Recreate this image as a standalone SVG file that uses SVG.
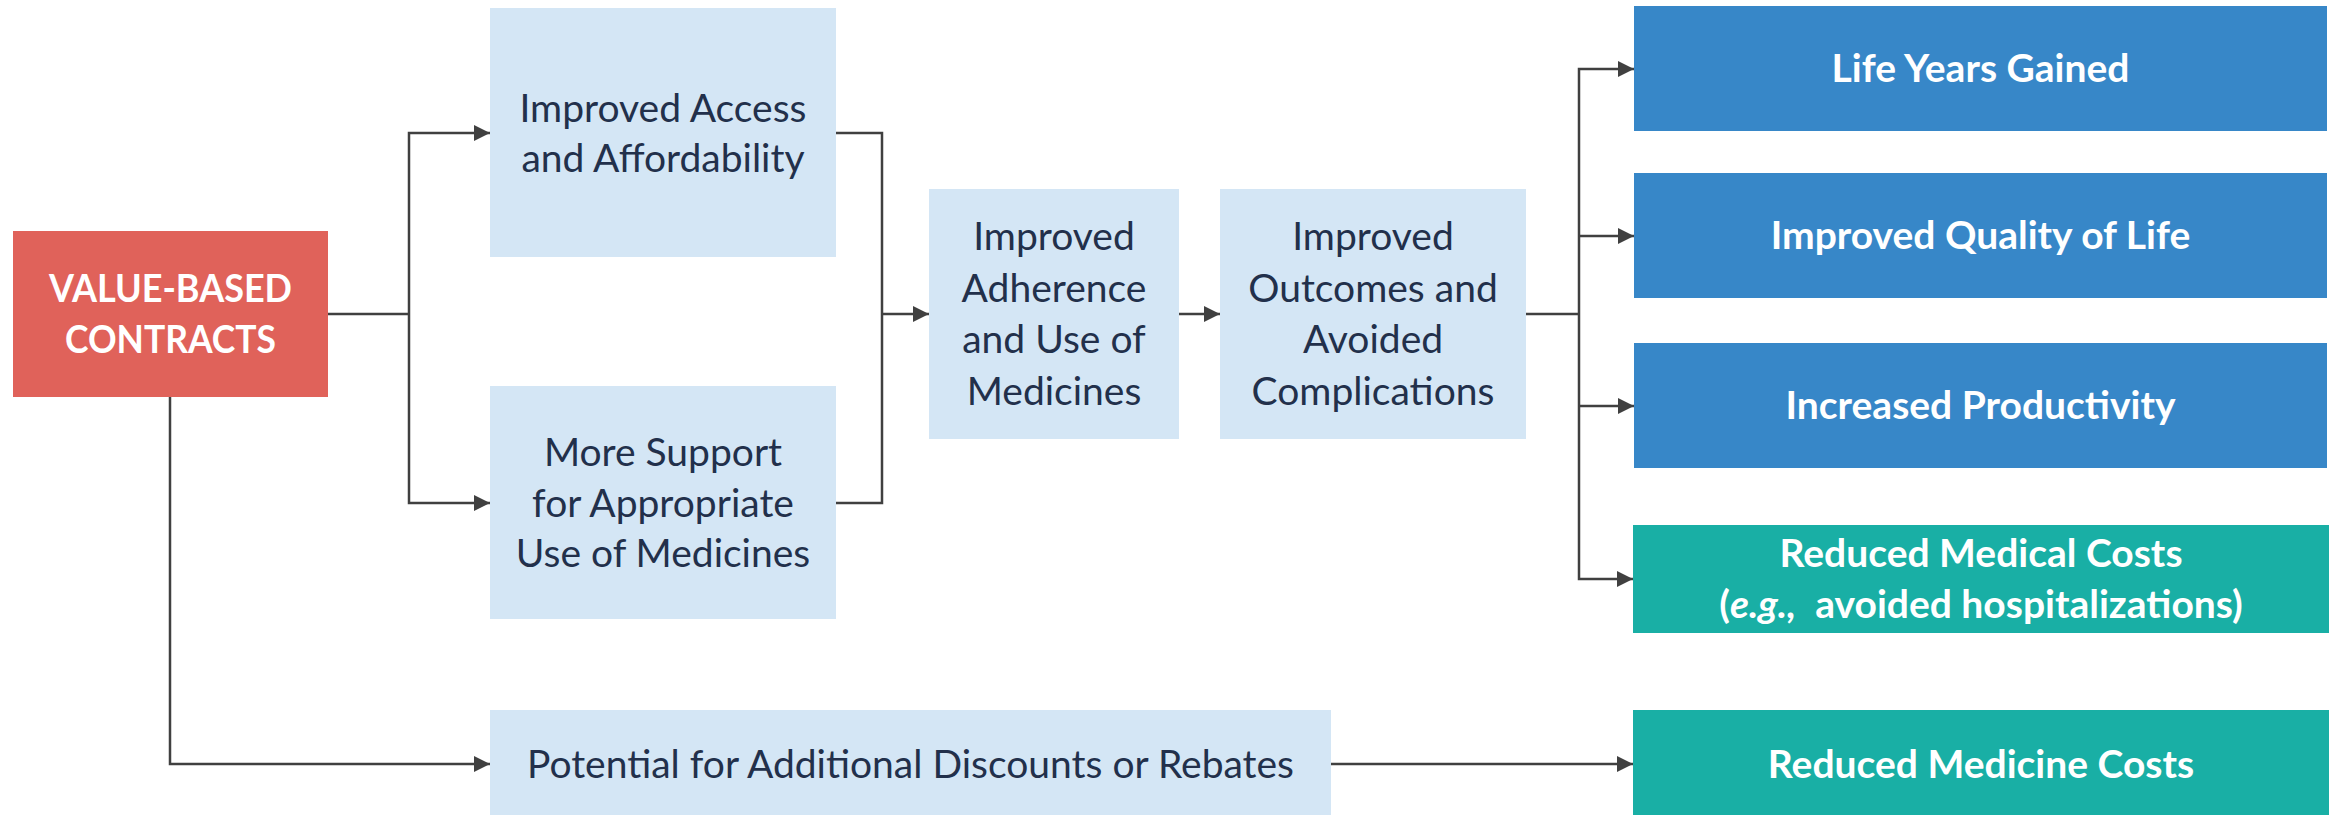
<svg xmlns="http://www.w3.org/2000/svg" width="2338" height="815" viewBox="0 0 2338 815">
  <style>
    .red { fill: #E0625A; }
    .pale { fill: #D4E6F5; }
    .blue { fill: #3787C8; }
    .teal { fill: #19AFA5; }
    .dark { font-family: Lato, "Liberation Sans", sans-serif; font-size: 39px; fill: #22304B; text-anchor: middle; }
    .light { font-family: Lato, "Liberation Sans", sans-serif; font-size: 39px; font-weight: bold; fill: #FFFFFF; text-anchor: middle; }
    .wire { fill: none; stroke: #404040; stroke-width: 2.5; }
  </style>
  <defs>
    <marker id="arrow" markerUnits="userSpaceOnUse" markerWidth="16" markerHeight="16" refX="16" refY="8" orient="auto">
      <path d="M0,0 L16,8 L0,16 Z" fill="#404040"/>
    </marker>
  </defs>
  <rect width="2338" height="815" fill="#FFFFFF"/>

  <g id="connectors">
    <path class="wire" d="M328,314 H409"/>
    <path class="wire" d="M409,314 V133 H490" marker-end="url(#arrow)"/>
    <path class="wire" d="M409,314 V503 H490" marker-end="url(#arrow)"/>
    <path class="wire" d="M836,133 H882 V503 H836"/>
    <path class="wire" d="M882,314 H929" marker-end="url(#arrow)"/>
    <path class="wire" d="M1179,314 H1220" marker-end="url(#arrow)"/>
    <path class="wire" d="M1526,314 H1579"/>
    <path class="wire" d="M1579,314 V69 H1634" marker-end="url(#arrow)"/>
    <path class="wire" d="M1579,236 H1634" marker-end="url(#arrow)"/>
    <path class="wire" d="M1579,314 V579 H1633" marker-end="url(#arrow)"/>
    <path class="wire" d="M1579,406 H1634" marker-end="url(#arrow)"/>
    <path class="wire" d="M170,397 V764 H490" marker-end="url(#arrow)"/>
    <path class="wire" d="M1331,764 H1633" marker-end="url(#arrow)"/>
  </g>

  <g id="value-based-contracts">
    <rect class="red" x="13" y="231" width="315" height="166"/>
    <text class="light" x="170.5" y="302" textLength="243" lengthAdjust="spacingAndGlyphs">VALUE-BASED</text>
    <text class="light" x="170.5" y="353" textLength="211" lengthAdjust="spacingAndGlyphs">CONTRACTS</text>
  </g>

  <g id="access-affordability">
    <rect class="pale" x="490" y="8" width="346" height="249"/>
    <text class="dark" x="663" y="122">Improved Access</text>
    <text class="dark" x="663" y="172">and Affordability</text>
  </g>

  <g id="appropriate-use">
    <rect class="pale" x="490" y="386" width="346" height="233"/>
    <text class="dark" x="663" y="466">More Support</text>
    <text class="dark" x="663" y="516.5">for Appropriate</text>
    <text class="dark" x="663" y="567">Use of Medicines</text>
  </g>

  <g id="adherence">
    <rect class="pale" x="929" y="189" width="250" height="250"/>
    <text class="dark" x="1054" y="250">Improved</text>
    <text class="dark" x="1054" y="302">Adherence</text>
    <text class="dark" x="1054" y="353">and Use of</text>
    <text class="dark" x="1054" y="405">Medicines</text>
  </g>

  <g id="outcomes">
    <rect class="pale" x="1220" y="189" width="306" height="250"/>
    <text class="dark" x="1373" y="250">Improved</text>
    <text class="dark" x="1373" y="302">Outcomes and</text>
    <text class="dark" x="1373" y="353">Avoided</text>
    <text class="dark" x="1373" y="405">Complications</text>
  </g>

  <g id="discounts-rebates">
    <rect class="pale" x="490" y="710" width="841" height="105"/>
    <text class="dark" x="910.5" y="778">Potential for Additional Discounts or Rebates</text>
  </g>

  <g id="life-years">
    <rect class="blue" x="1634" y="6" width="693" height="125"/>
    <text class="light" x="1980.5" y="82">Life Years Gained</text>
  </g>

  <g id="quality-of-life">
    <rect class="blue" x="1634" y="173" width="693" height="125"/>
    <text class="light" x="1980.5" y="249">Improved Quality of Life</text>
  </g>

  <g id="productivity">
    <rect class="blue" x="1634" y="343" width="693" height="125"/>
    <text class="light" x="1980.5" y="419">Increased Productivity</text>
  </g>

  <g id="medical-costs">
    <rect class="teal" x="1633" y="525" width="696" height="108"/>
    <text class="light" x="1981" y="567">Reduced Medical Costs</text>
    <text class="light" x="1981" y="618" xml:space="preserve">(<tspan font-style="italic">e.g.,</tspan>  avoided hospitalizations)</text>
  </g>

  <g id="medicine-costs">
    <rect class="teal" x="1633" y="710" width="696" height="105"/>
    <text class="light" x="1981" y="778">Reduced Medicine Costs</text>
  </g>
</svg>
